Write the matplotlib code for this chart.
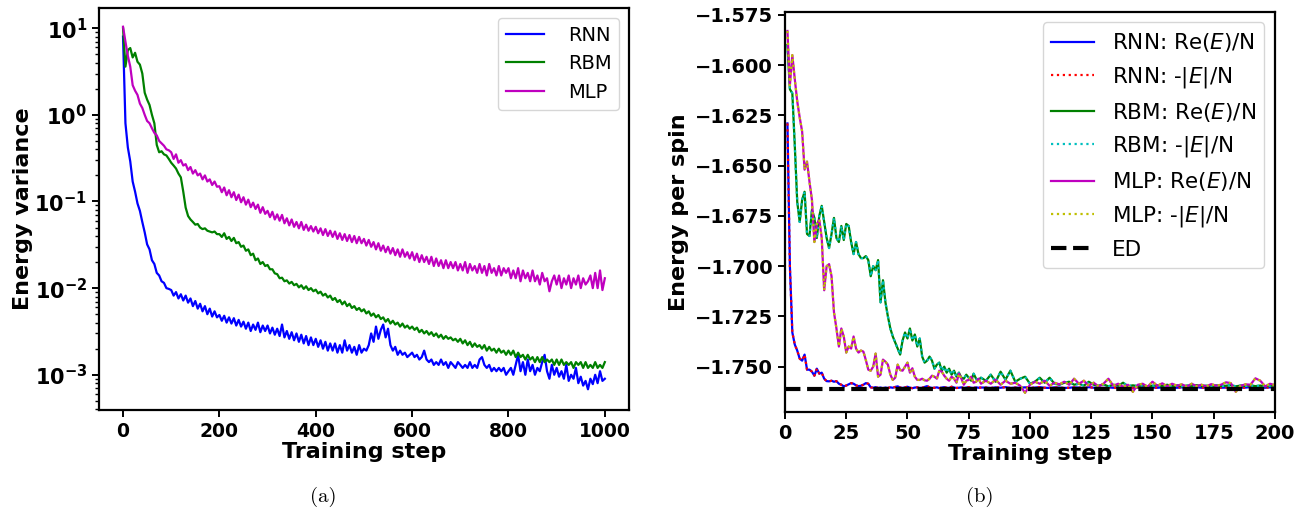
#!/usr/bin/env python3
"""Training curves: energy variance (a) and energy per spin (b) for RNN / RBM / MLP ansatze."""

import numpy as np
import matplotlib
matplotlib.use("Agg")
import matplotlib.pyplot as plt
import matplotlib.ticker as ticker

# ─── (a) energy variance, sampled every 5 steps ──────────────────────────────
STEPS_A = np.arange(0, 1001, 5)

VAR_RNN = [
    8.0, 0.80, 0.42, 0.29, 0.17, 0.13, 0.095, 0.078, 0.058, 0.044,
    0.032, 0.028, 0.021, 0.019, 0.015, 0.014, 0.012, 0.0115, 0.0100, 0.0098,
    0.0095, 0.0082, 0.0090, 0.0076, 0.0085, 0.0072, 0.0082, 0.0068, 0.0076, 0.0062,
    0.0071, 0.0058, 0.0066, 0.0054, 0.0062, 0.0050, 0.0058, 0.0047, 0.0054, 0.0046,
    0.0049, 0.0042, 0.0048, 0.0040, 0.0046, 0.0039, 0.0045, 0.0037, 0.0043, 0.0036,
    0.0041, 0.0034, 0.0040, 0.0032, 0.0038, 0.0033, 0.0040, 0.0031, 0.0037, 0.0032,
    0.0037, 0.0030, 0.0035, 0.0029, 0.0034, 0.0028, 0.0038, 0.0027, 0.0032, 0.0026,
    0.0031, 0.0025, 0.0030, 0.0024, 0.0029, 0.0023, 0.0028, 0.0022, 0.0027, 0.0022,
    0.0026, 0.0021, 0.0025, 0.0020, 0.0024, 0.0019, 0.0023, 0.0019, 0.0023, 0.0018,
    0.0022, 0.0018, 0.0025, 0.0019, 0.0022, 0.0018, 0.0021, 0.0017, 0.0022, 0.0018,
    0.0020, 0.0019, 0.0022, 0.0030, 0.0024, 0.0036, 0.0026, 0.0033, 0.0038, 0.0027,
    0.0034, 0.0022, 0.0019, 0.0021, 0.0017, 0.0019, 0.0017, 0.0018, 0.0016, 0.0017,
    0.0018, 0.0016, 0.0017, 0.0015, 0.0016, 0.0019, 0.0015, 0.0014, 0.0015, 0.0013,
    0.0014, 0.0013, 0.0015, 0.0013, 0.0014, 0.0012, 0.0014, 0.0013, 0.0012, 0.0014,
    0.0013, 0.0012, 0.0013, 0.0012, 0.0014, 0.0012, 0.0013, 0.0012, 0.0015, 0.0016,
    0.0013, 0.0012, 0.0013, 0.0011, 0.0012, 0.0011, 0.0012, 0.0011, 0.0012, 0.0010,
    0.0011, 0.0012, 0.0010, 0.0013, 0.0017, 0.0011, 0.0014, 0.0010, 0.0015, 0.0011,
    0.0013, 0.0010, 0.0012, 0.0011, 0.0014, 0.0017, 0.0011, 0.0009, 0.0013, 0.0010,
    0.0012, 0.00095, 0.0011, 0.0009, 0.0013, 0.00085, 0.0010, 0.00090, 0.0012, 0.00080,
    0.00095, 0.00075, 0.00085, 0.00068, 0.00090, 0.00078, 0.0010, 0.00080, 0.0011, 0.00085,
    0.00090,
]

VAR_RBM = [
    10.0, 3.6, 5.6, 5.9, 4.6, 5.2, 4.1, 3.8, 3.0, 1.8,
    1.5, 1.3, 1.0, 0.80, 0.45, 0.37, 0.38, 0.35, 0.34, 0.31,
    0.28, 0.26, 0.24, 0.21, 0.19, 0.13, 0.085, 0.068, 0.062, 0.058,
    0.054, 0.055, 0.050, 0.048, 0.049, 0.046, 0.045, 0.044, 0.045, 0.042,
    0.042, 0.039, 0.043, 0.037, 0.039, 0.035, 0.038, 0.033, 0.034, 0.030,
    0.031, 0.027, 0.028, 0.024, 0.025, 0.021, 0.022, 0.019, 0.020, 0.018,
    0.0185, 0.0165, 0.0165, 0.0148, 0.0145, 0.0130, 0.0132, 0.0120, 0.0123, 0.0113,
    0.0118, 0.0108, 0.0112, 0.0102, 0.0108, 0.0098, 0.0105, 0.0095, 0.0100, 0.0092,
    0.0096, 0.0087, 0.0091, 0.0082, 0.0086, 0.0078, 0.0082, 0.0073, 0.0077, 0.0069,
    0.0073, 0.0065, 0.0070, 0.0062, 0.0066, 0.0059, 0.0062, 0.0056, 0.0059, 0.0054,
    0.0057, 0.0051, 0.0054, 0.0048, 0.0051, 0.0046, 0.0049, 0.0044, 0.0046, 0.0041,
    0.0044, 0.0039, 0.0042, 0.0038, 0.0040, 0.0036, 0.0039, 0.0035, 0.0037, 0.0034,
    0.0036, 0.0033, 0.0035, 0.0031, 0.0033, 0.0030, 0.0032, 0.0029, 0.0031, 0.0028,
    0.0030, 0.0027, 0.0029, 0.0026, 0.0028, 0.0026, 0.0027, 0.0025, 0.0026, 0.0024,
    0.0026, 0.0023, 0.0025, 0.0022, 0.0024, 0.0021, 0.0023, 0.0021, 0.0022, 0.0020,
    0.0022, 0.0019, 0.0021, 0.0019, 0.0020, 0.0018, 0.0020, 0.0018, 0.0019, 0.0017,
    0.0019, 0.0017, 0.0019, 0.0016, 0.0018, 0.0016, 0.0017, 0.0015, 0.0017, 0.0015,
    0.0016, 0.0014, 0.0016, 0.0014, 0.0016, 0.0014, 0.0015, 0.0014, 0.0015, 0.0013,
    0.0015, 0.0013, 0.0015, 0.0013, 0.0014, 0.0013, 0.0014, 0.0012, 0.0014, 0.0013,
    0.0014, 0.0012, 0.0014, 0.0012, 0.0013, 0.0012, 0.0014, 0.0012, 0.0013, 0.0012,
    0.0014,
]

VAR_MLP = [
    10.4, 7.0, 4.8, 3.6, 2.2, 1.9, 1.7, 1.35, 1.2, 1.0,
    0.85, 0.80, 0.70, 0.62, 0.58, 0.50, 0.47, 0.44, 0.40, 0.39,
    0.37, 0.31, 0.35, 0.28, 0.30, 0.26, 0.27, 0.23, 0.25, 0.21,
    0.23, 0.20, 0.21, 0.18, 0.20, 0.17, 0.18, 0.155, 0.17, 0.148,
    0.150, 0.128, 0.145, 0.118, 0.135, 0.112, 0.128, 0.104, 0.120, 0.098,
    0.112, 0.092, 0.105, 0.086, 0.097, 0.082, 0.092, 0.074, 0.086, 0.072,
    0.078, 0.066, 0.076, 0.062, 0.071, 0.060, 0.070, 0.056, 0.064, 0.053,
    0.062, 0.051, 0.058, 0.049, 0.058, 0.047, 0.054, 0.046, 0.052, 0.045,
    0.051, 0.043, 0.049, 0.041, 0.048, 0.040, 0.046, 0.039, 0.045, 0.037,
    0.043, 0.036, 0.042, 0.035, 0.041, 0.034, 0.040, 0.033, 0.039, 0.033,
    0.037, 0.031, 0.036, 0.030, 0.034, 0.028, 0.033, 0.027, 0.031, 0.026,
    0.030, 0.025, 0.029, 0.024, 0.028, 0.023, 0.028, 0.023, 0.026, 0.022,
    0.026, 0.021, 0.025, 0.020, 0.024, 0.020, 0.023, 0.019, 0.023, 0.018,
    0.022, 0.018, 0.021, 0.017, 0.021, 0.017, 0.020, 0.017, 0.020, 0.016,
    0.019, 0.016, 0.020, 0.015, 0.019, 0.016, 0.018, 0.015, 0.019, 0.015,
    0.018, 0.014, 0.019, 0.015, 0.017, 0.014, 0.018, 0.014, 0.017, 0.015,
    0.017, 0.013, 0.016, 0.013, 0.017, 0.012, 0.016, 0.013, 0.015, 0.012,
    0.016, 0.012, 0.014, 0.011, 0.015, 0.012, 0.013, 0.0092, 0.012, 0.014,
    0.011, 0.014, 0.010, 0.013, 0.011, 0.014, 0.010, 0.013, 0.011, 0.014,
    0.010, 0.013, 0.011, 0.012, 0.014, 0.010, 0.015, 0.010, 0.016, 0.0095,
    0.013,
]

# ─── (b) energy per spin: every step up to 80, then every 2nd step ───────────
STEPS_B = np.r_[np.arange(1, 81), np.arange(82, 201, 2)]

E_RNN = [
    -1.629, -1.700, -1.733, -1.739, -1.742, -1.746, -1.747, -1.744, -1.7515, -1.7515,
    -1.7525, -1.7545, -1.751, -1.7535, -1.753, -1.756, -1.7572, -1.7573, -1.7570, -1.7575,
    -1.7572, -1.7585, -1.7590, -1.7598, -1.7594, -1.7588, -1.7582, -1.7585, -1.7593, -1.7597,
    -1.7595, -1.7590, -1.7582, -1.7585, -1.7603, -1.7605, -1.7602, -1.7606, -1.7604, -1.7607,
    -1.7604, -1.7606, -1.7603, -1.7605, -1.7601, -1.7598, -1.7604, -1.7606, -1.7603, -1.7600,
    -1.7605, -1.7607, -1.7604, -1.7603, -1.7606, -1.7605, -1.7601, -1.7597, -1.7603, -1.7606,
    -1.7605, -1.7603, -1.7607, -1.7604, -1.7602, -1.7605, -1.7606, -1.7600, -1.7604, -1.7606,
    -1.7605, -1.7603, -1.7606, -1.7604, -1.7602, -1.7605, -1.7606, -1.7603, -1.7605, -1.7604,
    -1.7604, -1.7606, -1.7603, -1.7605, -1.7602, -1.7606, -1.7604, -1.7605, -1.7603, -1.7606,
    -1.7604, -1.7602, -1.7605, -1.7606, -1.7603, -1.7604, -1.7606, -1.7605, -1.7603, -1.7604,
    -1.7606, -1.7602, -1.7605, -1.7604, -1.7606, -1.7603, -1.7605, -1.7604, -1.7606, -1.7603,
    -1.7605, -1.7604, -1.7602, -1.7606, -1.7604, -1.7605, -1.7603, -1.7606, -1.7604, -1.7605,
    -1.7603, -1.7606, -1.7604, -1.7602, -1.7605, -1.7604, -1.7606, -1.7603, -1.7605, -1.7604,
    -1.7606, -1.7603, -1.7605, -1.7604, -1.7602, -1.7606, -1.7604, -1.7605, -1.7603, -1.7605,
]

E_RBM = [
    -1.590, -1.612, -1.614, -1.640, -1.668, -1.678, -1.667, -1.663, -1.684, -1.685,
    -1.672, -1.676, -1.686, -1.675, -1.670, -1.678, -1.686, -1.691, -1.684, -1.676,
    -1.686, -1.688, -1.680, -1.687, -1.679, -1.680, -1.688, -1.694, -1.688, -1.694,
    -1.696, -1.696, -1.695, -1.697, -1.705, -1.700, -1.702, -1.697, -1.718, -1.707,
    -1.718, -1.725, -1.731, -1.735, -1.738, -1.741, -1.744, -1.737, -1.733, -1.736,
    -1.731, -1.737, -1.734, -1.740, -1.736, -1.745, -1.748, -1.747, -1.745, -1.747,
    -1.751, -1.749, -1.748, -1.752, -1.750, -1.753, -1.751, -1.754, -1.752, -1.755,
    -1.753, -1.7555, -1.756, -1.754, -1.7555, -1.757, -1.7535, -1.756, -1.7565, -1.7555,
    -1.757, -1.754, -1.7575, -1.7525, -1.7565, -1.752, -1.7575, -1.756, -1.755, -1.7585,
    -1.7575, -1.7555, -1.758, -1.7555, -1.7585, -1.759, -1.758, -1.7575, -1.759, -1.7585,
    -1.7595, -1.7575, -1.759, -1.7595, -1.7588, -1.7598, -1.759, -1.7595, -1.758, -1.7597,
    -1.7593, -1.7597, -1.7592, -1.7598, -1.7595, -1.7593, -1.7596, -1.759, -1.7597, -1.7593,
    -1.7598, -1.7594, -1.7596, -1.7592, -1.7597, -1.7595, -1.7598, -1.7593, -1.7597, -1.7595,
    -1.7592, -1.7598, -1.7594, -1.7596, -1.7593, -1.7597, -1.7594, -1.7598, -1.7595, -1.7593,
]

E_MLP = [
    -1.583, -1.610, -1.595, -1.607, -1.618, -1.626, -1.633, -1.652, -1.648, -1.658,
    -1.667, -1.688, -1.679, -1.677, -1.686, -1.712, -1.700, -1.699, -1.705, -1.723,
    -1.731, -1.740, -1.731, -1.735, -1.743, -1.740, -1.741, -1.735, -1.741, -1.743,
    -1.742, -1.7425, -1.7467, -1.7515, -1.752, -1.750, -1.7435, -1.755, -1.754, -1.7465,
    -1.7475, -1.749, -1.754, -1.7566, -1.7555, -1.749, -1.7517, -1.752, -1.750, -1.748,
    -1.753, -1.7508, -1.755, -1.7566, -1.7566, -1.756, -1.7568, -1.757, -1.756, -1.7545,
    -1.755, -1.756, -1.752, -1.7525, -1.7545, -1.756, -1.757, -1.755, -1.756, -1.758,
    -1.7535, -1.756, -1.759, -1.757, -1.7566, -1.755, -1.758, -1.7575, -1.756, -1.7585,
    -1.757, -1.7585, -1.7565, -1.759, -1.757, -1.7585, -1.758, -1.7595, -1.763, -1.759,
    -1.7575, -1.7585, -1.757, -1.7595, -1.758, -1.7588, -1.7575, -1.759, -1.756, -1.7585,
    -1.757, -1.7595, -1.758, -1.7598, -1.7585, -1.756, -1.7595, -1.7585, -1.760, -1.759,
    -1.7625, -1.759, -1.7585, -1.760, -1.7575, -1.7595, -1.7583, -1.7598, -1.7585, -1.7595,
    -1.7588, -1.760, -1.7585, -1.7597, -1.759, -1.7598, -1.7587, -1.7595, -1.7590, -1.7578,
    -1.7582, -1.7625, -1.7595, -1.7588, -1.759, -1.7558, -1.757, -1.7598, -1.7585, -1.7592,
]

E_ED = -1.7611

MODELS = ["RNN", "RBM", "MLP"]
SOLID = {"RNN": "b", "RBM": "g", "MLP": "m"}
DOTTED = {"RNN": "r", "RBM": "c", "MLP": "y"}

plt.rcParams.update({
    "font.family": "DejaVu Sans",
    "axes.linewidth": 1.6,
    "xtick.major.width": 1.4,
    "ytick.major.width": 1.4,
    "xtick.major.size": 5,
    "ytick.major.size": 5,
    "ytick.minor.width": 1.0,
    "ytick.minor.size": 3,
})

fig = plt.figure(figsize=(13.07, 5.14), dpi=100)

# ─── (a) ────────────────────────────────────────────────────────────────────
ax = fig.add_axes([0.0757, 0.2023, 0.4055, 0.7821])
for name, var in zip(MODELS, [VAR_RNN, VAR_RBM, VAR_MLP]):
    ax.plot(STEPS_A, var, color=SOLID[name], lw=1.6, label=name)
ax.set_yscale("log")
ax.set_xlim(-50, 1050)
ax.set_ylim(3.92e-4, 17.1)
ax.yaxis.set_major_locator(ticker.LogLocator(base=10, numticks=10))
ax.yaxis.set_major_formatter(ticker.FuncFormatter(
    lambda v, _: r"$\mathbf{10^{%d}}$" % round(np.log10(v))))
ax.xaxis.set_major_locator(ticker.MultipleLocator(200))
ax.tick_params(axis="x", labelsize=13.5)
ax.tick_params(axis="y", labelsize=15)
for lab in ax.get_xticklabels():
    lab.set_fontweight("bold")
ax.set_xlabel("Training step", fontsize=16, fontweight="bold", labelpad=1)
ax.set_ylabel("Energy variance", fontsize=16, fontweight="bold", labelpad=1)
ax.legend(fontsize=14, handletextpad=1.2, loc="upper right")

# ─── (b) ────────────────────────────────────────────────────────────────────
bx = fig.add_axes([0.6006, 0.1979, 0.3749, 0.7794])
for name, e in zip(MODELS, [E_RNN, E_RBM, E_MLP]):
    e = np.asarray(e)
    bx.plot(STEPS_B, e, color=SOLID[name], lw=1.6, ls="-",
            label=f"{name}: Re($E$)/N")
    bx.plot(STEPS_B, -np.abs(e), color=DOTTED[name], lw=1.6, ls=":",
            label=f"{name}: -|$E$|/N")
bx.axhline(E_ED, color="k", lw=3, ls="--", label="ED")
bx.set_xlim(0, 200)
bx.set_ylim(-1.7727, -1.5734)
bx.xaxis.set_major_locator(ticker.MultipleLocator(25))
bx.yaxis.set_major_locator(ticker.MultipleLocator(0.025))
bx.yaxis.set_major_formatter(ticker.FuncFormatter(lambda v, _: f"\u2212{abs(v):.3f}"))
bx.tick_params(labelsize=14)
for lab in bx.get_xticklabels() + bx.get_yticklabels():
    lab.set_fontweight("bold")
bx.set_xlabel("Training step", fontsize=16, fontweight="bold", labelpad=1)
bx.set_ylabel("Energy per spin", fontsize=16, fontweight="bold")
bx.legend(fontsize=15.5, loc="upper right")

# sub-figure captions
fig.text(0.2471, 0.033, "(a)", ha="center", va="center", fontsize=15, family="cmr10")
fig.text(0.7498, 0.033, "(b)", ha="center", va="center", fontsize=15, family="cmr10")

fig.savefig("out.png", dpi=100)
plt.close(fig)
